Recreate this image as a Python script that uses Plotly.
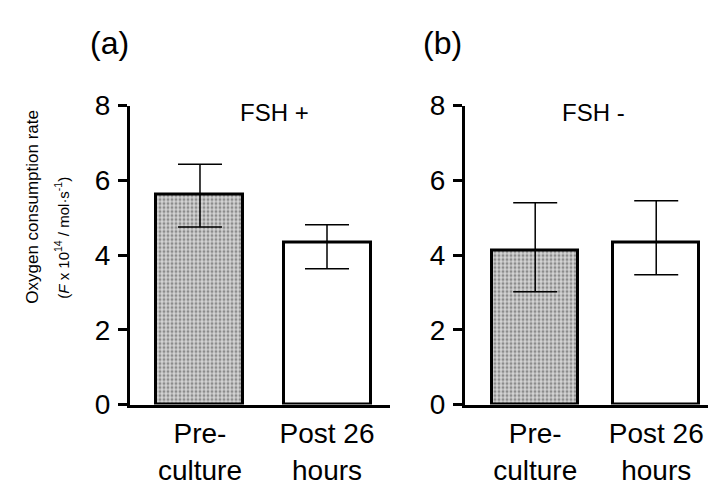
import plotly.graph_objects as go

categories = ["Pre-<br>culture", "Post 26<br>hours"]
fsh_plus = [5.63, 4.33]
fsh_plus_err_up = [0.80, 0.48]
fsh_plus_err_down = [0.88, 0.70]
fsh_minus = [4.12, 4.33]
fsh_minus_err_up = [1.28, 1.12]
fsh_minus_err_down = [1.10, 0.86]
y_ticks = [0, 2, 4, 6, 8]

W, H = 716, 496
OFF = 8  # page body margin offset
def px(x): return (x - OFF) / W
def py(y): return 1 - (y - OFF) / H

FONT = "Liberation Sans, Arial, sans-serif"

fig = go.Figure()
for i, (vals, up, dn, bw) in enumerate([(fsh_plus, fsh_plus_err_up, fsh_plus_err_down, 0.685),
                                         (fsh_minus, fsh_minus_err_up, fsh_minus_err_down, 0.71)]):
    xa = "x" if i == 0 else "x2"
    ya = "y" if i == 0 else "y2"
    fig.add_trace(go.Bar(
        x=[0, 1], y=vals, xaxis=xa, yaxis=ya, width=bw,
        marker=dict(color=["#d4d4d4", "white"], line=dict(color="black", width=3),
                    pattern=dict(shape=[".", ""], fgcolor="#444444", bgcolor="#d4d4d4",
                                 size=4, solidity=0.45)),
        error_y=dict(type="data", symmetric=False, array=up, arrayminus=dn,
                     color="black", thickness=1.5, width=22),
        showlegend=False, hoverinfo="skip"))

yax = dict(range=[0, 8], tickvals=y_ticks, showline=True, linewidth=3, linecolor="black",
           ticks="outside", ticklen=9, tickwidth=3, tickcolor="black", ticklabelstandoff=2,
           showgrid=False, zeroline=False, tickfont=dict(size=28, family=FONT, color="black"),
           domain=[py(415), py(96)])
xax = dict(tickvals=[0, 1], ticktext=categories, showline=True,
           linewidth=3, linecolor="black", ticks="", showgrid=False, zeroline=False,
           ticklabelstandoff=2,
           tickfont=dict(size=28, family=FONT, color="black"))

def ann(text, x, y, size, angle=0):
    return dict(text=text, x=px(x), y=py(y), xref="paper", yref="paper", showarrow=False,
                xanchor="center", yanchor="middle", textangle=angle,
                font=dict(size=size, family=FONT, color="black"))

fig.update_layout(
    width=W, height=H, margin=dict(l=0, r=0, t=0, b=0),
    paper_bgcolor="white", plot_bgcolor="white", bargap=0,
    xaxis=dict(xax, range=[-0.551, 1.496], domain=[px(130), px(390)], anchor="y"),
    xaxis2=dict(xax, range=[-0.58, 1.56], domain=[px(465), min(1.0, px(724))], anchor="y2"),
    yaxis=dict(yax, anchor="x"),
    yaxis2=dict(yax, anchor="x2"),
    annotations=[
        ann("(a)", 110, 29, 32),
        ann("(b)", 443, 29, 32),
        ann("FSH +", 274, 103, 24),
        ann("FSH -", 593, 103, 24),
        ann("Oxygen consumption rate", 33, 204, 17, -90),
        ann("(<i>F</i> x 10<sup>14</sup> / mol·s<sup>-1</sup>)", 62, 237, 15, -90),
    ],
)

fig.write_html("out.html")
